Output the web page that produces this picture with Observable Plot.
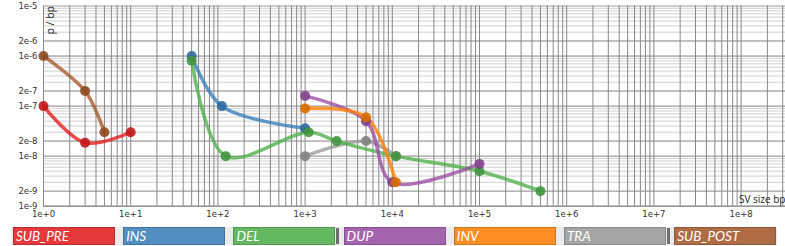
<!DOCTYPE html>
<html>
<head>
<meta charset="utf-8">
<script src="https://cdn.jsdelivr.net/npm/d3@7"></script>
<script src="https://cdn.jsdelivr.net/npm/@observablehq/plot@0.6"></script>
<style>
  html, body { margin: 0; padding: 0; background: #fff; }
  #wrap { position: relative; width: 785px; height: 246px; overflow: hidden; }
  #legend { position: absolute; left: 0; top: 226px; width: 785px; height: 20px; }
  .strip { position: absolute; left: 11px; top: 1px; width: 766px; height: 18px; background: #ebebeb; }
  .item { position: absolute; top: 1px; height: 16px; width: 98px; border: 1px solid rgba(0,0,0,0.18);
          font: italic 13.5px Lato, "Open Sans", sans-serif; color: #fff; line-height: 17px;
          padding-left: 2px; box-sizing: content-box; white-space: nowrap; }
  .bar { position: absolute; top: 2px; width: 3px; height: 16px; background: #6e6e6e; }
</style>
</head>
<body>
<div id="wrap"><div id="chart"></div><div id="legend"></div></div>
<script>
// ---- data ----
const categories = ["SUB_PRE", "INS", "DEL", "DUP", "INV", "TRA", "SUB_POST"];
const colors = ["#e41a1c", "#377eb8", "#4daf4a", "#984ea3", "#ff7f00", "#999999", "#a65628"];

const subPreSize = [1, 3, 10];
const subPreP = [1e-7, 1.85e-8, 3e-8];
const insSize = [50, 111, 1000];
const insP = [1e-6, 1e-7, 3.6e-8];
const delSize = [50, 123, 1100, 2300, 11000, 1e5, 5e5];
const delP = [8.1e-7, 1e-8, 3e-8, 2e-8, 1e-8, 5e-9, 2e-9];
const dupSize = [1000, 5000, 10000, 1e5];
const dupP = [1.6e-7, 5e-8, 3e-9, 7e-9];
const invSize = [1000, 5000, 11000];
const invP = [9e-8, 6e-8, 3e-9];
const traSize = [1000, 5000, 11000];
const traP = [1e-8, 2e-8, 1e-8];
const subPostSize = [1, 3, 5];
const subPostP = [1e-6, 2e-7, 3e-8];

const xTicks = [1, 1e1, 1e2, 1e3, 1e4, 1e5, 1e6, 1e7, 1e8];
const yTicks = [1e-5, 2e-6, 1e-6, 2e-7, 1e-7, 2e-8, 1e-8, 2e-9, 1e-9];

// ---- build table ----
const seriesSizes = [subPreSize, insSize, delSize, dupSize, invSize, traSize, subPostSize];
const seriesP = [subPreP, insP, delP, dupP, invP, traP, subPostP];
const drawOrder = ["SUB_PRE", "INS", "TRA", "DEL", "DUP", "INV", "SUB_POST"];
const rows = [];
drawOrder.forEach(cat => {
  const i = categories.indexOf(cat);
  seriesSizes[i].forEach((s, j) => rows.push({cat, size: s, p: seriesP[i][j]}));
});

// minor grid positions (1..9 x decade)
const xGrid = [];
for (let k = 0; k <= 8; k++) for (let m = 1; m <= 9; m++) xGrid.push(m * Math.pow(10, k));
const yGridMinor = [];
for (let k = -9; k <= -6; k++) for (let m = 1; m <= 9; m++) yGridMinor.push(m * Math.pow(10, k));

const fmt = v => v.toExponential(0);
const dotColors = colors.map(c => d3.color(c).darker(0.45).formatHex());

const chart = Plot.plot({
  width: 785,
  height: 222,
  marginLeft: 43,
  marginRight: 0,
  marginTop: 5.5,
  marginBottom: 16.3,
  style: {fontFamily: "DejaVu Sans, sans-serif", fontSize: "8.5px", color: "#333", background: "#fff"},
  x: {type: "log", domain: [1, 3.23e8]},
  y: {type: "log", domain: [1e-9, 1e-5]},
  color: {domain: categories, range: colors},
  marks: [
    Plot.ruleY(yGridMinor, {stroke: "#d0d0d0", strokeWidth: 1}),
    Plot.ruleY(yTicks, {stroke: "#9a9a9a", strokeWidth: 1}),
    Plot.ruleX(xGrid, {stroke: "#888", strokeWidth: 1}),
    Plot.ruleX([1], {stroke: "#888"}),
    Plot.ruleY([1e-9], {stroke: "#888"}),
    Plot.axisX({ticks: xTicks, tickFormat: fmt, tickSize: 0, tickPadding: 4.5, label: null}),
    Plot.axisY({ticks: yTicks, tickFormat: fmt, tickSize: 0, tickPadding: 6, label: null}),
    Plot.line(rows, {x: "size", y: "p", z: "cat", stroke: "cat", curve: "catmull-rom",
      strokeWidth: 3.5, strokeOpacity: 0.78}),
    Plot.dot(rows, {x: "size", y: "p", r: 5,
      fill: d => dotColors[categories.indexOf(d.cat)], fillOpacity: 0.9}),
    Plot.text(["p / bp"], {frameAnchor: "top-left", rotate: -90, textAnchor: "end", lineAnchor: "middle",
      dx: 7, dy: 0, fontFamily: "Open Sans, sans-serif", fontSize: 10.5, fill: "#222"}),
    Plot.text(["SV size bp"], {frameAnchor: "bottom-right", textAnchor: "end", lineAnchor: "middle",
      dx: 0, dy: -6, fontFamily: "Open Sans, sans-serif", fontSize: 10, fill: "#222"})
  ]
});
document.getElementById("chart").appendChild(chart);

// ---- legend ----
const legend = document.getElementById("legend");
const strip = document.createElement("div");
strip.className = "strip";
legend.appendChild(strip);
categories.forEach((c, i) => {
  const d = document.createElement("div");
  d.className = "item";
  d.style.left = (13 + i * 110.2) + "px";
  d.style.background = d3.color(colors[i]).copy({opacity: 0.85}).formatRgb();
  d.textContent = c;
  legend.appendChild(d);
});
[336, 667].forEach(x => {
  const b = document.createElement("div");
  b.className = "bar";
  b.style.left = x + "px";
  legend.appendChild(b);
});
</script>
</body>
</html>
